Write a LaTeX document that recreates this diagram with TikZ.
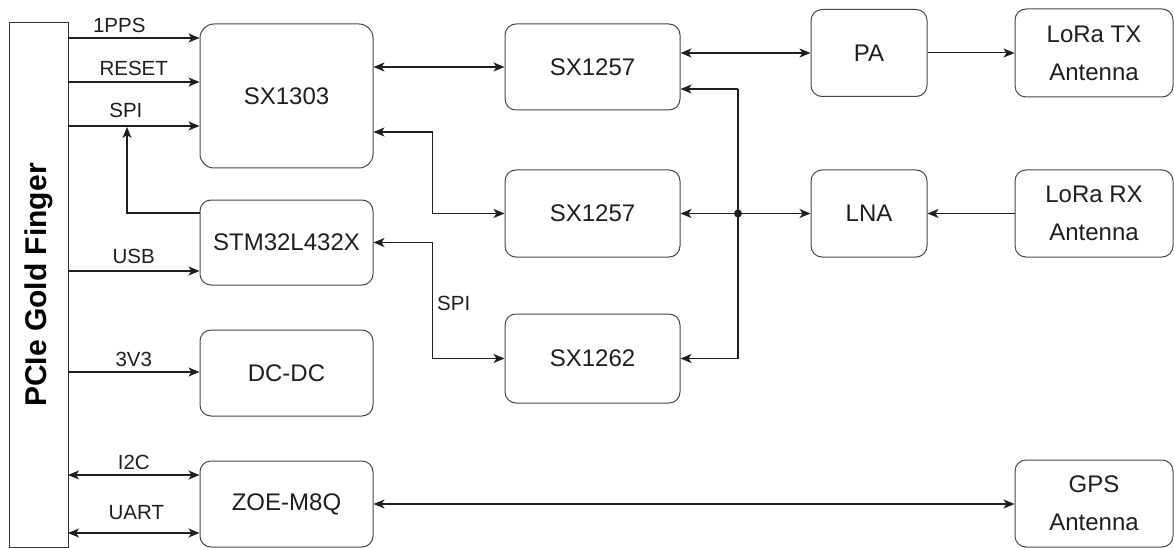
\documentclass[tikz,border=0pt]{standalone}
\usepackage{fontspec}
\setmainfont{Liberation Sans}
\usetikzlibrary{arrows.meta}
\begin{document}
\begin{tikzpicture}[x=1pt,y=-1pt,
  blk/.style={draw=black!72, line width=1pt, rounded corners=11pt, inner sep=0pt,
    font=\fontsize{24}{38}\selectfont, text=black!88, align=center},
  lbl/.style={font=\fontsize{20.5}{24}\selectfont, text=black!88, inner sep=0pt, anchor=base},
  tip/.tip={Stealth[length=11pt,width=9pt,inset=3pt]},
  con/.style={line width=1.3pt, draw=black!88, -tip},
  bi/.style={line width=1.3pt, draw=black!88, tip-tip},
  wire/.style={line width=1.3pt, draw=black!88},
]
\useasboundingbox (0,0) rectangle (1174,548);

% blocks
\node[draw=black!80, line width=1pt, minimum width=59pt, minimum height=524pt, inner sep=0pt] (pcie) at (38.5,285) {};
\node[rotate=90, font=\fontsize{30}{36}\selectfont\bfseries, text=black] (pcietxt) at (pcie.center) {PCIe Gold Finger};

\node[blk, minimum width=173pt, minimum height=144pt, rounded corners=14pt] (sx1303) at (286.5,96) {SX1303};
\node[blk, minimum width=173pt, minimum height=85pt] (stm) at (286.5,242.5) {STM32L432X};
\node[blk, minimum width=173pt, minimum height=86pt] (dcdc) at (286.5,373) {DC-DC};
\node[blk, minimum width=173pt, minimum height=86pt] (zoe) at (286.5,504) {ZOE-M8Q};

\node[blk, minimum width=175pt, minimum height=86pt] (sxa) at (592.5,67) {SX1257};
\node[blk, minimum width=175pt, minimum height=87pt] (sxb) at (592.5,213.5) {SX1257};
\node[blk, minimum width=175pt, minimum height=89pt] (sxc) at (592.5,358.5) {SX1262};

\node[blk, minimum width=116pt, minimum height=87pt] (pa) at (869,53) {PA};
\node[blk, minimum width=116pt, minimum height=87pt] (lna) at (869,213.5) {LNA};

\node[blk, minimum width=158pt, minimum height=88pt] (tx) at (1094,53) {LoRa TX\\Antenna};
\node[blk, minimum width=158pt, minimum height=87pt] (rx) at (1094,213.5) {LoRa RX\\Antenna};
\node[blk, minimum width=158pt, minimum height=87pt] (gps) at (1094,503.5) {GPS\\Antenna};

% PCIe side connectors
\coordinate (p1) at (68,38);
\coordinate (p2) at (68,82);
\coordinate (p3) at (68,126);
\coordinate (p4) at (68,271);
\coordinate (p5) at (68,372);
\coordinate (p6) at (68,475);
\coordinate (p7) at (68,533);

\draw[con] (p1) -- node[lbl, pos=0.39, yshift=5.5pt] {1PPS} (p1 -| sx1303.west);
\draw[con] (p2) -- node[lbl, pos=0.5, yshift=6pt] {RESET} (p2 -| sx1303.west);
\draw[con] (p3) -- node[lbl, pos=0.44, yshift=8pt] {SPI} (p3 -| sx1303.west);
\draw[con] (p4) -- node[lbl, pos=0.5, yshift=8pt] {USB} (p4 -| stm.west);
\draw[con] (p5) -- node[lbl, pos=0.5, yshift=6pt] {3V3} (p5 -| dcdc.west);
\draw[bi] (p6) -- node[lbl, pos=0.5, yshift=6pt] {I2C} (p6 -| zoe.west);
\draw[bi] (p7) -- node[lbl, pos=0.52, yshift=14pt] {UART} (p7 -| zoe.west);

% STM SPI to SX1303 SPI line
\coordinate (spitap) at (127,127);
\draw[con] ([yshift=29.5pt]stm.west) -| (spitap);

% SX1303 / STM to radios
\draw[bi] (sxa.west -| sx1303.east) -- (sxa.west);
\draw[bi] ([yshift=-36pt]sx1303.east) -- ++(59,0) |- (sxb.west);
\draw[bi] (stm.east) -- ++(59,0) |- (sxc.west);
\node[lbl, anchor=base west] (spilbl) at (437,310) {SPI};

% right bus
\coordinate (bt) at (738,89);
\coordinate (j) at (738,213.5);
\coordinate (bb) at (738,358.5);
\draw[wire] (bt) -- (bb);
\draw[con] (bt) -- (bt -| sxa.east);
\draw[con] (j) -- (sxb.east);
\draw[con] (bb) -- (sxc.east);
\draw[con] (j) -- (lna.west);
\fill[black!88] (j) circle (4pt);

% RF front end
\draw[bi] (pa.west -| sxa.east) -- (pa.west);
\draw[con, line width=1pt] (pa.east) -- (tx.west);
\draw[con, line width=1pt] (rx.west) -- (lna.east);

% GPS
\draw[bi] (zoe.east) -- (zoe.east -| gps.west);
\end{tikzpicture}
\end{document}
